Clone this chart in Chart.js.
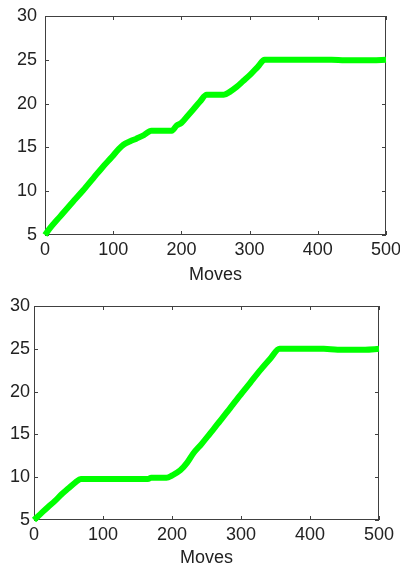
<!DOCTYPE html>
<html>
<head>
<meta charset="utf-8">
<script src="https://cdn.jsdelivr.net/npm/chart.js@4"></script>
<style>
  body { margin: 0; background: #fff; overflow: hidden; }
  .box { position: absolute; left: 0; width: 400px; }
</style>
</head>
<body>
<div class="box" style="top:0;height:290px"><canvas id="top" width="400" height="290"></canvas></div>
<div class="box" style="top:290px;height:279px"><canvas id="bottom" width="400" height="279"></canvas></div>
<script>
// run 1
const moves1 = [0, 7, 22, 41, 56, 71, 85, 98, 108, 115, 125, 134, 145, 156, 170, 186, 193, 200, 208, 217, 227, 237, 250, 262, 272, 281, 291, 301, 312, 322, 340, 380, 420, 440, 460, 480, 500];
const score1 = [5, 5.75, 7.1, 8.8, 10.1, 11.5, 12.8, 13.9, 14.8, 15.3, 15.7, 16.0, 16.4, 16.9, 16.9, 16.9, 17.5, 17.8, 18.5, 19.3, 20.2, 21.0, 21.0, 21.0, 21.4, 21.9, 22.6, 23.3, 24.2, 25.0, 25.0, 25.0, 25.0, 24.95, 24.95, 24.95, 25.0];

// run 2
const moves2 = [0, 10, 20, 30, 40, 50, 60, 68, 80, 100, 130, 165, 170, 192, 200, 212, 222, 231, 243, 255, 270, 284, 298, 313, 328, 342, 356, 380, 420, 440, 460, 480, 500];
const score2 = [5, 5.75, 6.5, 7.2, 8.0, 8.7, 9.4, 9.8, 9.8, 9.8, 9.8, 9.8, 9.95, 9.95, 10.2, 10.8, 11.7, 12.8, 13.9, 15.1, 16.6, 18.05, 19.5, 21.0, 22.5, 23.8, 25.0, 25.0, 25.0, 24.9, 24.9, 24.9, 25.0];

const xTicks = [0, 100, 200, 300, 400, 500];
const yTicks = [5, 10, 15, 20, 25, 30];

const textColor = '#222';
const axisColor = '#404040';
const font = { family: 'Liberation Sans, Arial, sans-serif', size: 18 };

// frame around the plot with small inward ticks on all four sides
const boxTicks = {
  id: 'boxTicks',
  beforeDatasetsDraw(chart) {
    const { ctx, chartArea: a, scales: { x, y } } = chart;
    const len = 4;
    ctx.save();
    ctx.strokeStyle = axisColor;
    ctx.lineWidth = 1;
    ctx.strokeRect(Math.round(a.left) + 0.5, Math.round(a.top) + 0.5,
                   Math.round(a.width) - 1, Math.round(a.height) - 1);
    ctx.beginPath();
    x.ticks.forEach((t, i) => {
      const px = Math.round(x.getPixelForTick(i)) + 0.5;
      ctx.moveTo(px, a.bottom); ctx.lineTo(px, a.bottom - len);
      ctx.moveTo(px, a.top); ctx.lineTo(px, a.top + len);
    });
    y.ticks.forEach((t, i) => {
      const py = Math.round(y.getPixelForTick(i)) + 0.5;
      ctx.moveTo(a.left, py); ctx.lineTo(a.left + len, py);
      ctx.moveTo(a.right, py); ctx.lineTo(a.right - len, py);
    });
    ctx.stroke();
    ctx.restore();
  }
};

function makeChart(id, moves, score, opt) {
  const points = moves.map((m, i) => ({ x: m, y: score[i] }));
  return new Chart(document.getElementById(id), {
    type: 'line',
    data: {
      datasets: [{
        data: points,
        borderColor: 'rgb(0,255,0)',
        borderWidth: 6,
        pointRadius: 0,
        cubicInterpolationMode: 'monotone',
        clip: 8
      }]
    },
    options: {
      responsive: false,
      animation: false,
      devicePixelRatio: 1,
      layout: { padding: { top: 16, right: opt.right, left: 0, bottom: 0 } },
      plugins: { legend: { display: false }, tooltip: { enabled: false } },
      scales: {
        x: {
          type: 'linear',
          min: 0, max: 500,
          afterBuildTicks: s => { s.ticks = xTicks.map(v => ({ value: v })); },
          afterFit: s => { s.height = opt.xHeight; s.paddingLeft = 0; s.paddingRight = 0; },
          grid: { display: false, drawTicks: false },
          border: { display: false },
          ticks: { color: textColor, font: font, padding: 4, maxRotation: 0 },
          title: { display: true, text: 'Moves', color: textColor, font: font, padding: { top: 0, bottom: opt.titlePad } }
        },
        y: {
          min: 5, max: 30,
          afterBuildTicks: s => { s.ticks = yTicks.map(v => ({ value: v })); },
          afterFit: s => { s.width = opt.yWidth; s.paddingTop = 0; s.paddingBottom = 0; },
          grid: { display: false, drawTicks: false },
          border: { display: false },
          ticks: { color: textColor, font: font, padding: opt.yPad }
        }
      }
    },
    plugins: [boxTicks]
  });
}

makeChart('top', moves1, score1, { right: 14, xHeight: 55, yWidth: 45, yPad: 8, titlePad: 4 });
makeChart('bottom', moves2, score2, { right: 21, xHeight: 49, yWidth: 34, yPad: 4, titlePad: 0 });
</script>
</body>
</html>
